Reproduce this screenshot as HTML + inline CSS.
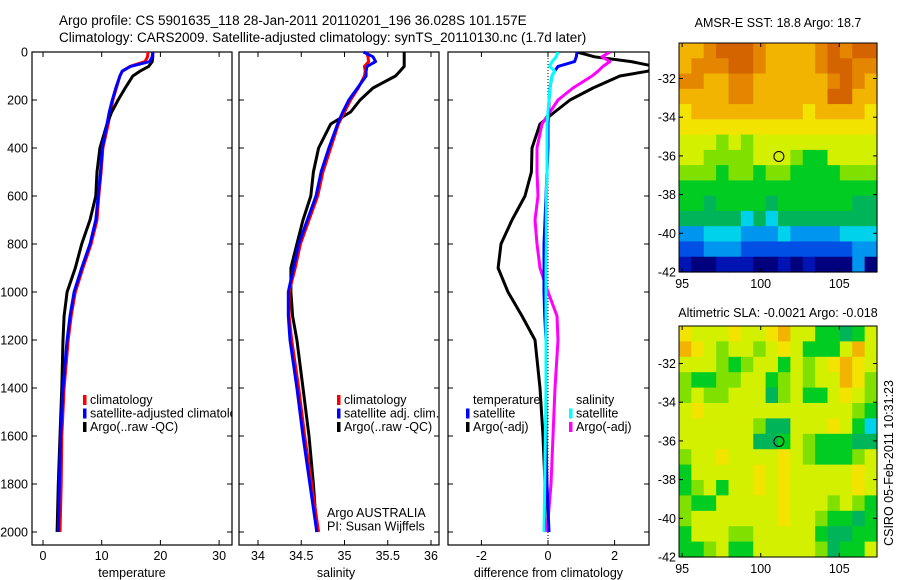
<!DOCTYPE html>
<html><head><meta charset="utf-8">
<style>
html,body{margin:0;padding:0;background:#fff;}
svg{display:block;font-family:"Liberation Sans",sans-serif;}
</style></head>
<body>
<svg id="fig" width="900" height="580" viewBox="0 0 900 580" xmlns="http://www.w3.org/2000/svg">
<text x="59" y="25" font-size="13.5">Argo profile: CS 5901635_118 28-Jan-2011 20110201_196 36.028S 101.157E</text>
<text x="59" y="42" font-size="13.5">Climatology: CARS2009. Satellite-adjusted climatology: synTS_20110130.nc (1.7d later)</text>
<g id="g"></g>
</svg>
<script>
// ---- data ----
const depths = [0,20,40,60,80,100,150,200,250,300,400,500,600,700,800,900,1000,1100,1200,1400,1600,1800,2000];
const tempClim = [17.9,17.8,17.4,14.8,13.5,13.1,12.5,11.9,11.5,11.1,10.2,9.9,9.5,9.2,8.2,6.8,5.5,4.8,4.3,3.6,3.2,3.1,2.9];
const tempSat  = [18.7,18.6,18.2,14.9,13.5,13.1,12.4,11.8,11.3,10.9,10.1,9.8,9.4,9.0,8.0,6.6,5.3,4.6,4.1,3.4,3.0,2.8,2.6];
const tempArgo = [18.7,18.7,18.6,18.0,16.5,15.3,14.0,12.8,11.7,10.9,9.7,9.2,9.0,8.0,6.6,5.5,4.1,3.6,3.4,3.2,2.9,2.6,2.4];
const salClim  = [35.26,35.27,35.28,35.23,35.24,35.23,35.16,35.07,35.0,34.93,34.84,34.75,34.69,34.59,34.49,34.43,34.36,34.36,34.39,34.47,34.54,34.62,34.70];
const salSat   = [35.22,35.33,35.36,35.26,35.25,35.25,35.15,35.05,34.98,34.92,34.82,34.73,34.67,34.57,34.47,34.41,34.35,34.35,34.37,34.45,34.52,34.60,34.68];
const salArgo  = [35.69,35.69,35.69,35.69,35.64,35.59,35.33,35.18,35.07,34.84,34.70,34.64,34.61,34.52,34.45,34.38,34.38,34.40,34.45,34.52,34.59,34.64,34.68];
const dTempArgo = [0.87,1.4,2.5,3.2,3.0,2.16,1.35,0.66,0.2,-0.24,-0.48,-0.5,-0.69,-1.08,-1.41,-1.5,-1.2,-0.78,-0.39,-0.24,-0.15,-0.09,-0.1];
const dTempSat  = [0.87,0.85,0.8,0.3,0.2,0.12,0.06,0.03,0.02,0.0,0.0,-0.03,-0.06,-0.09,-0.12,-0.12,-0.12,-0.1,-0.06,-0.06,-0.06,-0.03,0.03];
const dSalSat   = [0.3,0.25,0.12,0.05,0.2,0.12,0.06,0.03,0.0,-0.03,-0.03,-0.03,-0.05,-0.05,-0.05,-0.06,-0.06,-0.06,-0.06,-0.06,-0.08,-0.1,-0.12];
const dSalArgo  = [1.86,1.62,1.86,1.65,1.5,1.32,0.75,0.3,0.06,-0.18,-0.33,-0.33,-0.3,-0.39,-0.33,-0.24,0.0,0.27,0.3,0.21,0.15,0.09,-0.03];
const depthTicks = [0,200,400,600,800,1000,1200,1400,1600,1800,2000];
const tempTicks = [0,10,20,30];
const salTicks = [34,34.5,35,35.5,36];
const diffTicks = [-2,0,2];
const lonTicks = [95,100,105];
const latTicks = [-32,-34,-36,-38,-40,-42];
const argoLon = 101.157, argoLat = -36.028;
const sstGrid = [
"AABCCCBAAAABCBCC","ABBBCCBAAAABCCBB","BBAABBAAAAAABCBA","AAAABBAAAAAACCAA","9AAAAAAAAA9AAAA9",
"9999999999999999","8887878888888888","8877778887668888","7776776776666777","6666666666666666",
"6656666566666655","5555545455555555","3344433343333444","2233322222222233","1001110010100030"];
const slaGrid = [
"98889889A8866568","A9878878986668A8","8887678868789A98","7667788678788A97","7877888578668987",
"8988888888888876","8888887558889864","8888885568766655","7889888898766678","6888889898888898",
"6786889898888898","7668888898887876","7888888898876656","6888778888865566","6678668888875668"];
const palette = {"0":"#00007e","1":"#0014b4","2":"#0050e6","3":"#0096f0","4":"#00d2ec","5":"#00b45a","6":"#00cc22","7":"#80e000","8":"#d2f000","9":"#f2e400","A":"#f2b400","B":"#e48600","C":"#d46400"};

const NS="http://www.w3.org/2000/svg";
const root=document.getElementById('g');
function mk(tag,at,parent){const e=document.createElementNS(NS,tag);for(const k in at)e.setAttribute(k,at[k]);(parent||root).appendChild(e);return e;}

const Y0=52, Y1=532, YB=545;
function yD(d){return Y0+(d/2000)*(Y1-Y0);}

function panel(name,L,R,xf,ticks,fmt,title,showY){
  const g=mk('g',{});
  
  
  const fr=mk('rect',{x:L,y:Y0,width:R-L,height:YB-Y0,fill:'none',stroke:'#000','stroke-width':1.2},g);
  
  
  depthTicks.forEach(d=>{
    mk('line',{x1:L,x2:L+5,y1:yD(d),y2:yD(d),stroke:'#000'},g);
    mk('line',{x1:R-5,x2:R,y1:yD(d),y2:yD(d),stroke:'#000'},g);
    if(showY){const t=mk('text',{x:L-4,y:yD(d)+4.5,'font-size':12.5,'text-anchor':'end'},g);t.textContent=d;
      
      }
  });
  ticks.forEach(v=>{
    const x=xf(v);
    mk('line',{x1:x,x2:x,y1:Y0,y2:Y0+5,stroke:'#000'},g);
    mk('line',{x1:x,x2:x,y1:YB-5,y2:YB,stroke:'#000'},g);
    const t=mk('text',{x:x,y:560,'font-size':12.5,'text-anchor':'middle'},g);t.textContent=fmt(v);
    
    
  });
  const tt=mk('text',{x:(L+R)/2+(name==='salinity-panel'?-3:0),y:577,'font-size':12.5,'text-anchor':'middle'},g);tt.textContent=title;
  
  
  return g;
}
function line(g,xf,vals,color,name,clip){
  const pts=vals.map((v,i)=>xf(v).toFixed(1)+','+yD(depths[i]).toFixed(1)).join(' ');
  const p=mk('polyline',{points:pts,fill:'none',stroke:color,'stroke-width':3,'stroke-linejoin':'round'},g);
  if(clip)p.setAttribute('clip-path',clip);
  
  
}
function legend(g,x,y,items,name){
  items.forEach((it,i)=>{
    const yy=y+i*13.5;
    if(it.c){const r=mk('rect',{x:x,y:yy-9,width:3.5,height:10,fill:it.c},g);
      
      }
    const t=mk('text',{x:x+7,y:yy,'font-size':12.5},g);t.textContent=it.t;
    
    
  });
}
const defs=mk('defs',{});
const cp=mk('clipPath',{id:'c3'},defs);mk('rect',{x:448,y:Y0,width:201,height:YB-Y0},cp);
const cp1=mk('clipPath',{id:'c1'},defs);mk('rect',{x:32,y:Y0,width:200,height:YB-Y0},cp1);

const xT=v=>43+v*5.87;
const p1=panel('temperature-panel',32,232,xT,tempTicks,v=>v,'temperature',true);
line(p1,xT,tempClim,'#ff0000','temperature-climatology-line');
line(p1,xT,tempArgo,'#000000','temperature-argo-line');
line(p1,xT,tempSat,'#0000ff','temperature-satellite-line');
const lg1=mk('g',{},p1);
legend(lg1,83,404,[{c:'#f00',t:'climatology'},{c:'#00f',t:'satellite-adjusted climatology'},{c:'#000',t:'Argo(..raw -QC)'}],'temperature-legend');
lg1.setAttribute('clip-path','url(#c1)');

const xS=v=>258+(v-34)*86.5;
const p2=panel('salinity-panel',239,439,xS,salTicks,v=>v,'salinity',false);
line(p2,xS,salArgo,'#000000','salinity-argo-line');
line(p2,xS,salClim,'#ff0000','salinity-climatology-line');
line(p2,xS,salSat,'#0000ff','salinity-satellite-line');
legend(p2,337,404,[{c:'#f00',t:'climatology'},{c:'#00f',t:'satellite adj. clim.'},{c:'#000',t:'Argo(..raw -QC)'}],'salinity-legend');
legend(p2,320,517,[{t:'Argo AUSTRALIA'},{t:'PI: Susan Wijffels'}],'credit');

const xD=v=>548+v*33.3;
const p3=panel('difference-panel',448,649,xD,diffTicks,v=>v,'difference from climatology',false);
const zl=mk('line',{x1:xD(0),x2:xD(0),y1:Y0,y2:YB,stroke:'#000','stroke-dasharray':'1,2'},p3);


line(p3,xD,dTempArgo,'#000000','temperature-argo-diff-line','url(#c3)');
line(p3,xD,dSalArgo,'#ff00ff','salinity-argo-diff-line','url(#c3)');
line(p3,xD,dTempSat,'#0000ff','temperature-satellite-diff-line','url(#c3)');
line(p3,xD,dSalSat,'#00ffff','salinity-satellite-diff-line','url(#c3)');
legend(p3,466,404,[{t:'temperature'},{c:'#00f',t:'satellite'},{c:'#000',t:'Argo(-adj)'}],'temperature-diff-legend');
legend(p3,569,404,[{t:'salinity'},{c:'#0ff',t:'satellite'},{c:'#f0f',t:'Argo(-adj)'}],'salinity-diff-legend');

function map(name,top,bottom,grid,title,titleY){
  const L=679,R=877;
  const lonL=94.8,lonR=107.4;
  const latBottom=-42;
  const latTop=-42+(bottom-top)/19.35;
  const xL=lon=>L+(lon-lonL)/(lonR-lonL)*(R-L);
  const yL=lat=>top+(latTop-lat)/(latTop-latBottom)*(bottom-top);
  const g=mk('g',{});
  
  
  const rows=grid.length, cols=grid[0].length;
  const cw=(R-L)/cols, ch=(bottom-top)/rows;
  for(let r=0;r<rows;r++)for(let c=0;c<cols;c++){
    const cell=mk('rect',{x:(L+c*cw).toFixed(2),y:(top+r*ch).toFixed(2),width:(cw+0.6).toFixed(2),height:(ch+0.6).toFixed(2),fill:palette[grid[r][c]]},g);
    
    
  }
  mk('rect',{x:L,y:top,width:R-L,height:bottom-top,fill:'none',stroke:'#000','stroke-width':1},g);
  latTicks.forEach(v=>{const y=yL(v);
    mk('line',{x1:L,x2:L+4,y1:y,y2:y,stroke:'#000'},g);mk('line',{x1:R-4,x2:R,y1:y,y2:y,stroke:'#000'},g);
    const t=mk('text',{x:L-3,y:y+4.5,'font-size':12.5,'text-anchor':'end'},g);t.textContent=v;
    
    });
  lonTicks.forEach(v=>{const x=xL(v);
    mk('line',{x1:x,x2:x,y1:top,y2:top+4,stroke:'#000'},g);mk('line',{x1:x,x2:x,y1:bottom-4,y2:bottom,stroke:'#000'},g);
    const t=mk('text',{x:x,y:bottom+16,'font-size':12.5,'text-anchor':'middle'},g);t.textContent=v;
    
    });
  const c=mk('circle',{cx:xL(argoLon),cy:yL(argoLat),r:5,fill:'none',stroke:'#000','stroke-width':1},g);
  
  
  const t=mk('text',{x:778,y:titleY,'font-size':12.5,'text-anchor':'middle'},g);t.textContent=title;
  
  
}
map('sst-map',43,272,sstGrid,'AMSR-E SST: 18.8 Argo: 18.7',27);
map('sla-map',326,557,slaGrid,'Altimetric SLA: -0.0021 Argo: -0.018',317);
const st=mk('text',{x:893,y:463,'font-size':12.5,'text-anchor':'middle',transform:'rotate(-90 893 463)'});
st.textContent='CSIRO 05-Feb-2011 10:31:23';


</script>
</body></html>
